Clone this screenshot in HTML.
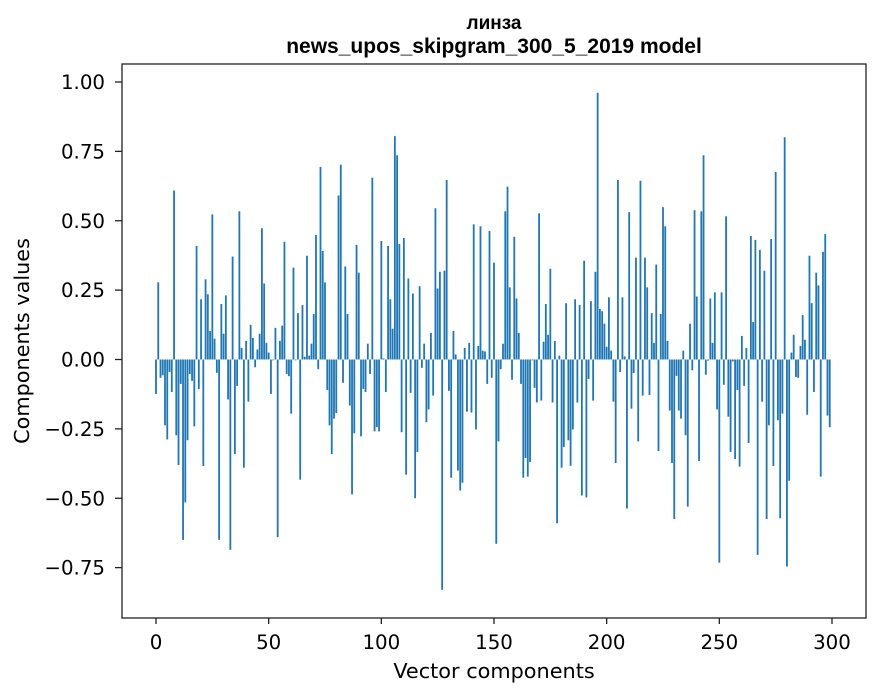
<!DOCTYPE html>
<html><head><meta charset="utf-8"><style>
html,body{margin:0;padding:0;background:#fff;}
svg{display:block;font-family:"DejaVu Sans","Liberation Sans",sans-serif;}
</style></head><body>
<svg id="chart" width="880" height="696" viewBox="0 0 880 696">
<rect x="0" y="0" width="880" height="696" fill="#fff"/>
<g font-family="Liberation Sans, sans-serif" font-weight="bold" font-size="21" text-anchor="middle">
<text x="494" y="29" font-size="19">линза</text>
<text x="494" y="53">news_upos_skipgram_300_5_2019 model</text>
</g>
<g id="bars"></g>
<g id="axes"></g>
<rect x="122" y="64" width="744" height="554" fill="none" stroke="#222" stroke-width="1.3"/>
<text x="494" y="678" font-size="20.8" text-anchor="middle">Vector components</text>
<text transform="translate(29,341) rotate(-90)" font-size="20.8" text-anchor="middle">Components values</text>
</svg>
<script>
const values = [
-0.124,0.278,-0.066,-0.057,-0.237,-0.288,-0.045,-0.117,0.609,-0.273,
-0.38,-0.088,-0.65,-0.515,-0.291,-0.052,-0.077,-0.241,0.409,-0.106,
0.217,-0.384,0.289,0.235,0.103,0.523,0.075,-0.048,-0.65,0.2,
0.093,0.231,-0.144,-0.686,0.371,-0.341,-0.095,0.534,0.042,-0.39,
0.067,-0.152,0.125,0.078,-0.028,0.036,0.093,0.473,0.274,0.06,
0.025,-0.124,-0.003,0.114,-0.64,0.067,0.122,0.424,-0.052,-0.06,
-0.195,0.331,-0.003,0.167,-0.433,0.196,0.01,0.374,0.014,0.057,
0.164,0.449,-0.035,0.694,0.391,0.278,-0.11,-0.237,-0.341,-0.213,
-0.193,0.591,0.702,-0.084,0.335,0.164,-0.166,-0.486,-0.266,0.413,
0.313,-0.277,-0.106,-0.117,0.057,-0.052,0.655,-0.259,-0.244,-0.259,
0.427,0.004,-0.117,0.409,0.217,0.111,0.805,0.736,0.416,-0.262,
0.438,-0.415,0.292,-0.12,0.238,-0.5,-0.333,0.264,-0.03,0.057,
-0.226,-0.18,0.096,-0.13,0.545,0.256,0.316,-0.83,0.32,0.647,
-0.113,-0.426,0.103,0.018,-0.4,-0.472,-0.444,0.042,-0.188,0.06,
-0.191,0.487,-0.252,0.049,0.48,0.032,0.029,-0.088,0.463,-0.066,
0.349,-0.664,-0.295,-0.035,0.057,0.534,0.623,0.26,-0.073,0.442,
0.22,0.096,-0.088,-0.426,-0.355,-0.422,-0.369,-0.003,-0.102,-0.155,
0.527,-0.148,0.064,0.2,0.089,0.327,-0.155,0.067,-0.59,0.014,
-0.39,-0.315,0.203,-0.291,-0.383,-0.252,0.217,-0.155,0.196,-0.49,
0.356,-0.497,-0.07,0.21,-0.148,0.316,0.961,0.182,0.174,0.129,
0.046,0.224,0.032,-0.152,-0.373,0.647,-0.045,0.224,0.011,-0.537,
0.531,-0.177,-0.049,0.367,-0.295,0.644,-0.13,0.367,0.26,-0.128,
0.167,0.06,0.342,-0.33,0.164,0.549,0.48,0.067,-0.184,-0.373,
-0.575,-0.059,-0.184,-0.213,0.032,-0.273,-0.53,0.129,-0.039,0.538,
0.227,-0.366,0.534,0.736,-0.055,-0.004,0.22,0.06,0.242,-0.18,
-0.732,0.242,-0.091,0.516,-0.206,-0.333,-0.007,-0.359,-0.11,-0.386,
0.085,-0.095,0.042,-0.301,0.445,0.135,0.431,-0.704,0.395,-0.152,
0.32,-0.575,-0.237,0.434,-0.384,0.676,-0.219,-0.572,-0.195,0.801,
-0.746,-0.437,0.025,0.089,-0.063,-0.066,0.049,0.16,0.071,-0.199,
0.374,0.203,-0.117,0.313,0.267,-0.422,0.388,0.452,-0.202,-0.244
];
const xTicks = [0,50,100,150,200,250,300];
const yTicks = [-0.75,-0.5,-0.25,0,0.25,0.5,0.75,1.0];
const yTickLabels = ["−0.75","−0.50","−0.25","0.00","0.25","0.50","0.75","1.00"];

const NS = "http://www.w3.org/2000/svg";
function xScale(v){ return 156 + v*2.2533; }
function yScale(v){ return 359.5 - v*277.5; }
const barsG = document.getElementById('bars');
values.forEach((v,i)=>{
  const r = document.createElementNS(NS,'rect');
  const w = 0.8*2.2533;
  const y0 = yScale(0), y1 = yScale(v);
  r.setAttribute('x', xScale(i)-w/2);
  r.setAttribute('y', Math.min(y0,y1));
  r.setAttribute('width', w);
  r.setAttribute('height', Math.max(Math.abs(y1-y0),0.3));
  r.setAttribute('fill', '#1f77b4');
  
  
  barsG.appendChild(r);
});
const axesG = document.getElementById('axes');
xTicks.forEach(t=>{
  const x = xScale(t);
  const l = document.createElementNS(NS,'line');
  l.setAttribute('x1',x);l.setAttribute('x2',x);l.setAttribute('y1',618);l.setAttribute('y2',624);
  l.setAttribute('stroke','#222');l.setAttribute('stroke-width','1.3');
  
  
  axesG.appendChild(l);
  const tx = document.createElementNS(NS,'text');
  tx.setAttribute('x',x);tx.setAttribute('y',649);tx.setAttribute('font-size','19.8');tx.setAttribute('text-anchor','middle');
  tx.textContent = String(t);
  
  
  axesG.appendChild(tx);
});
yTicks.forEach((t,k)=>{
  const y = yScale(t);
  const l = document.createElementNS(NS,'line');
  l.setAttribute('x1',115);l.setAttribute('x2',122);l.setAttribute('y1',y);l.setAttribute('y2',y);
  l.setAttribute('stroke','#222');l.setAttribute('stroke-width','1.3');
  
  
  axesG.appendChild(l);
  const tx = document.createElementNS(NS,'text');
  tx.setAttribute('x',105);tx.setAttribute('y',y+7);tx.setAttribute('font-size','19.8');tx.setAttribute('text-anchor','end');
  tx.textContent = yTickLabels[k];
  
  
  axesG.appendChild(tx);
});
</script>
</body></html>
